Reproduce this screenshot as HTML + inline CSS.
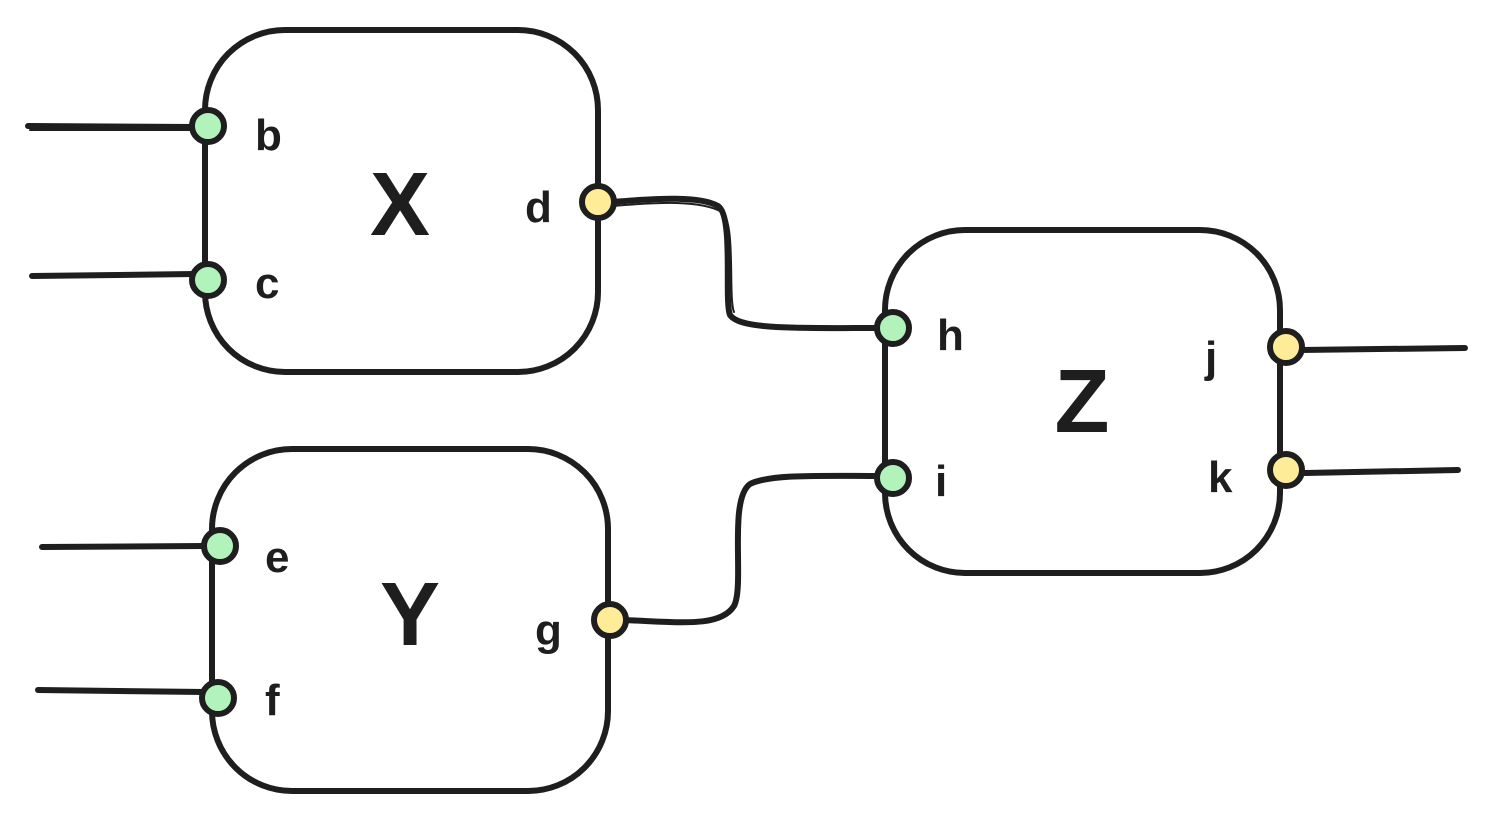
<!DOCTYPE html>
<html><head><meta charset="utf-8"><style>
html,body{margin:0;padding:0;background:#fff;}
svg{display:block}
text{font-family:"Liberation Sans",sans-serif;fill:#1e1e1e}
</style></head><body>
<svg width="1493" height="822" viewBox="0 0 1493 822" xmlns="http://www.w3.org/2000/svg">
<g fill="none" stroke="#1e1e1e" stroke-width="6" stroke-linecap="round" stroke-linejoin="round">
<rect x="205" y="30" width="393" height="342" rx="80"/>
<rect x="212" y="449" width="396" height="342" rx="80"/>
<rect x="885" y="230" width="395" height="343" rx="80"/>
<path d="M28 126 L195 127"/><path d="M30 130 L190 130" stroke-width="2"/>
<path d="M32 276 L195 274"/>
<path d="M42 547 L205 546"/>
<path d="M38 690 L205 692"/>
<path d="M1300 350 L1465 348"/>
<path d="M1305 473 L1458 470"/>
<path d="M612 202 C660 198 700 196 718 206 C734 216 724 300 730 315 C740 330 800 328 880 328"/>
<path d="M612 206 C660 202 700 200 722 212 C736 222 728 298 734 312" stroke-width="2"/>
<path d="M622 620 C680 622 720 628 734 606 C745 585 728 500 750 484 C770 474 820 476 880 476"/>
</g>
<g stroke="#1e1e1e" stroke-width="6">
<circle cx="208" cy="126" r="16" fill="#b2f2bb"/>
<circle cx="208" cy="280" r="16" fill="#b2f2bb"/>
<circle cx="220" cy="546" r="16" fill="#b2f2bb"/>
<circle cx="218" cy="698" r="16" fill="#b2f2bb"/>
<circle cx="893" cy="328" r="16" fill="#b2f2bb"/>
<circle cx="893" cy="478" r="16" fill="#b2f2bb"/>
<circle cx="598" cy="202" r="16" fill="#ffec99"/>
<circle cx="610" cy="620" r="16" fill="#ffec99"/>
<circle cx="1286" cy="347" r="16" fill="#ffec99"/>
<circle cx="1286" cy="470" r="16" fill="#ffec99"/>
</g>
<g font-size="44" font-weight="bold">
<text x="255" y="150">b</text>
<text x="255" y="298">c</text>
<text x="525" y="222">d</text>
<text x="265" y="572">e</text>
<text x="265" y="715">f</text>
<text x="535" y="645">g</text>
<text x="937" y="350">h</text>
<text x="935" y="496">i</text>
<text x="1205" y="372">j</text>
<text x="1208" y="492">k</text>
</g>
<g font-size="90" font-weight="bold" text-anchor="middle">
<text x="400" y="235">X</text>
<text x="410" y="645">Y</text>
<text x="1082" y="432">Z</text>
</g>
</svg>
</body></html>
